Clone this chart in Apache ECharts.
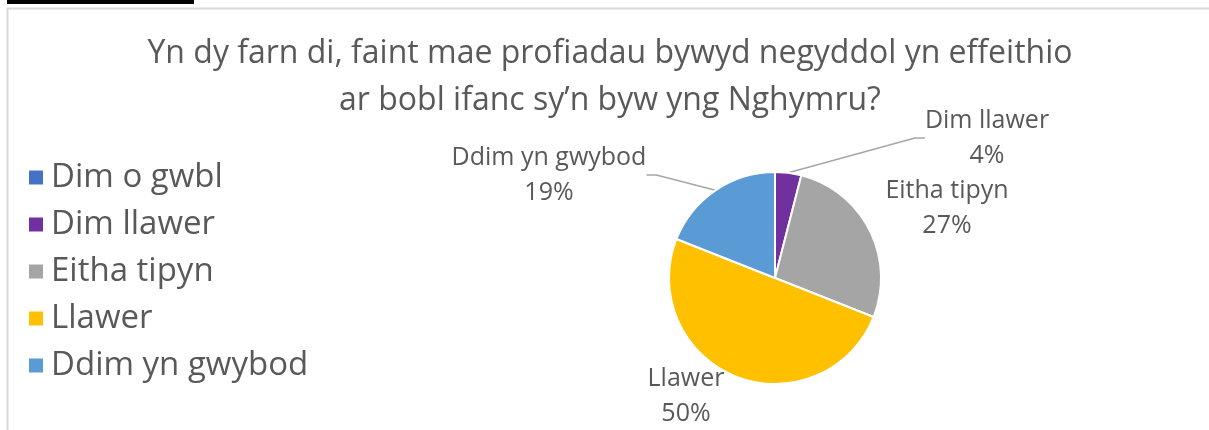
<!DOCTYPE html>
<html>
<head>
<meta charset="utf-8">
<script src="https://cdn.jsdelivr.net/npm/echarts@6/dist/echarts.min.js"></script>
<style>
  html, body { margin: 0; padding: 0; background: #fff; }
  #chart { width: 1209px; height: 430px; }
</style>
</head>
<body>
<div id="chart"></div>
<script>
var titleText = "Yn dy farn di, faint mae profiadau bywyd negyddol yn effeithio\nar bobl ifanc sy\u2019n byw yng Nghymru?";
var categories = ["Dim o gwbl", "Dim llawer", "Eitha tipyn", "Llawer", "Ddim yn gwybod"];
var values = [0, 4, 27, 50, 19];
var colors = ["#4472C4", "#7030A0", "#A5A5A5", "#FFC000", "#5B9BD5"];
var showLine = [false, true, false, false, true];
// where the data labels sit (label centres)
var labelSpots = [null, [987, 138], [947, 208], [686, 396], [549, 175]];

var font = "'Open Sans', sans-serif";
var textColor = "#595959";

var chart = echarts.init(document.getElementById("chart"));

var pieData = [];
for (var i = 0; i < categories.length; i++) {
  pieData.push({
    name: categories[i],
    value: values[i],
    itemStyle: { color: colors[i] },
    label: { show: values[i] > 0 },
    labelLine: { show: showLine[i] }
  });
}

var option = {
  backgroundColor: "#fff",
  animation: false,
  title: {
    text: titleText,
    left: 605,
    textAlign: "center",
    top: 25,
    textStyle: {
      fontFamily: font,
      fontSize: 32,
      fontWeight: "normal",
      color: textColor,
      lineHeight: 47
    }
  },
  legend: {
    orient: "vertical",
    left: 22,
    top: 156,
    itemWidth: 16,
    itemHeight: 16,
    itemGap: 14,
    icon: "rect",
    data: categories,
    textStyle: {
      fontFamily: font,
      fontSize: 33,
      color: textColor,
      lineHeight: 33,
      padding: [0, 0, 0, 2]
    }
  },
  graphic: [
    { type: "rect", shape: { x: 7, y: 0, width: 187, height: 4 }, style: { fill: "#000" } },
    { type: "line", shape: { x1: 7, y1: 8.5, x2: 1209, y2: 8.5 }, style: { stroke: "#d9d9d9", lineWidth: 2 } },
    { type: "line", shape: { x1: 7.5, y1: 8, x2: 7.5, y2: 430 }, style: { stroke: "#d9d9d9", lineWidth: 2 } }
  ],
  series: [{
    type: "pie",
    center: [775, 278],
    radius: 106,
    startAngle: 90,
    clockwise: true,
    avoidLabelOverlap: false,
    itemStyle: { borderColor: "#fff", borderWidth: 2 },
    label: {
      formatter: "{b}\n{d}%",
      fontFamily: font,
      fontSize: 25,
      lineHeight: 35,
      color: textColor,
      align: "center"
    },
    labelLine: {
      lineStyle: { color: "#a6a6a6", width: 1.5 },
      length: 20,
      length2: 10
    },
    labelLayout: function (params) {
      var p = labelSpots[params.dataIndex];
      if (!p) return {};
      return { x: p[0], y: p[1], align: "center", verticalAlign: "middle" };
    },
    data: pieData
  }]
};

chart.setOption(option);
</script>
</body>
</html>
